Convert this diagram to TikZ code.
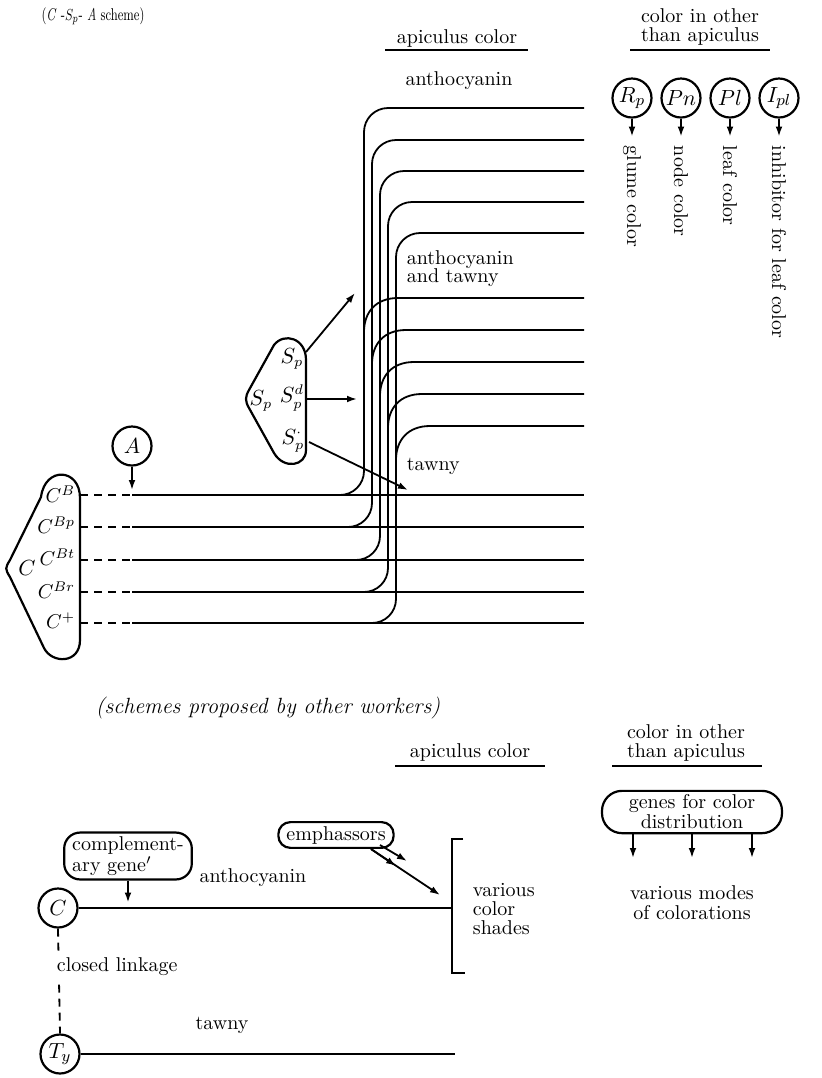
\documentclass[tikz,border=0pt]{standalone}
\usepackage{graphicx}
\usetikzlibrary{arrows.meta}
\begin{document}
\begin{tikzpicture}[x=0.5pt,y=-0.5pt,line width=0.9pt,
  txt/.style={inner sep=0pt,font=\fontsize{10}{12}\selectfont},
  gene/.style={draw,circle,minimum size=19.5pt,inner sep=0pt,line width=1.1pt,font=\fontsize{11}{12}\selectfont},
  arr/.style={-{Latex[length=5pt,width=3.4pt]}},
  pill/.style={draw,rounded corners=8pt,line width=1.1pt,inner xsep=4pt,inner ysep=2pt,font=\fontsize{10}{8.5}\selectfont},
  uline/.style={line width=1.3pt},
  shapeline/.style={line width=1.1pt},
  dline/.style={dash pattern=on 4pt off 3pt}]
\useasboundingbox (0,0) rectangle (821,1078);

% ---------------- headings (top)
\node[txt,font=\fontsize{8.5}{9}\selectfont] (title) at (93,16) {\scalebox{0.72}[1]{(\textit{C} -$S_p$- \textit{A} scheme)}};
\node[txt] (apc) at (457,38) {apiculus color};
\draw[uline] (385,50) -- (528,50);
\node[txt,align=center,font=\fontsize{10}{9.5}\selectfont] (other) at (700,27) {color in other\\than apiculus};
\draw[uline] (630,50) -- (770,50);
\node[txt] (antho) at (459,81) {anthocyanin};

% ---------------- genes for other colours
\node[gene] (Rp) at (632,98) {$R_p$};
\node[gene] (Pn) at (681,98) {$Pn$};
\node[gene] (Pl) at (730,98) {$Pl$};
\node[gene] (Ipl) at (779,98) {$I_{pl}$};
\foreach \g in {Rp,Pn,Pl,Ipl} \draw[arr] (\g.south) -- ++(0,18);
\node[txt,rotate=-90,anchor=west] (glume) at (632,145) {glume color};
\node[txt,rotate=-90,anchor=west] (nodec) at (681,145) {node color};
\node[txt,rotate=-90,anchor=west] (leafc) at (730,145) {leaf color};
\node[txt,rotate=-90,anchor=west] (inhib) at (779,145) {inhibitor for leaf color};

% ---------------- allele lines
\foreach \v/\y/\t/\m in {364/495/108/298, 372/527/140/330, 380/560/171/362, 388/592/202/394, 396/623/233/426} {
  \draw[rounded corners=12pt] ({\v-34},\y) -- (\v,\y) -- (\v,\t) -- (584,\t);
  \draw (\v,{\m+34}) .. controls (\v,{\m+14}) and ({\v+12},\m) .. ({\v+34},\m) -- (584,\m);
  \draw[dline] (80,\y) -- (132,\y);
  \draw (132,\y) -- (584,\y);
}
\node[txt,anchor=west,align=left,font=\fontsize{10}{9}\selectfont] (antaw) at (406,269) {anthocyanin\\and tawny};
\node[txt,anchor=west] (tawny1) at (406,466) {tawny};

% ---------------- Sp locus
\draw[shapeline] (306,450) -- (306,360) .. controls (306,338) and (284,332) .. (274,345)
  -- (249,390) .. controls (245,397) and (245,401) .. (249,408)
  -- (274,453) .. controls (284,470) and (306,466) .. (306,450) -- cycle;
\node[txt,font=\fontsize{10.5}{12}\selectfont] (sp1) at (292,359) {$S_p$};
\node[txt,font=\fontsize{10.5}{12}\selectfont] (sp0) at (261,401) {$S_p$};
\node[txt,font=\fontsize{10.5}{12}\selectfont] (spd) at (292,398) {$S^d_p$};
\node[txt,font=\fontsize{10.5}{12}\selectfont] (spm) at (293,441) {$S^{\cdot}_p$};
\coordinate (sa) at (306,352); \coordinate (ea) at (355,293);
\coordinate (sb) at (306,399); \coordinate (eb) at (357,399);
\coordinate (sc) at (309,442); \coordinate (ec) at (408,490);
\draw[arr] (sa) -- (ea);
\draw[arr] (sb) -- (eb);
\draw[arr] (sc) -- (ec);

% ---------------- A
\node[gene] (A) at (132,446) {$A$};
\coordinate (Ahit) at (132,490);
\draw[arr] (A.south) -- (Ahit);

% ---------------- C locus
\draw[shapeline] (80,640) -- (80,498) .. controls (80,468) and (45,466) .. (41,497)
  -- (10,560) .. controls (5,568) and (5,569) .. (10,577)
  -- (44,648) .. controls (52,664) and (80,664) .. (80,640) -- cycle;
\node[txt,font=\fontsize{11}{12}\selectfont] (Cbig) at (27,568) {$C$};
\node[txt,anchor=east] (cB) at (76,494) {$C^{B}$};
\node[txt,anchor=east] (cBp) at (76,525) {$C^{Bp}$};
\node[txt,anchor=east] (cBt) at (76,557) {$C^{Bt}$};
\node[txt,anchor=east] (cBr) at (76,590) {$C^{Br}$};
\node[txt,anchor=east] (cP) at (76,621) {$C^{+}$};

% ================= bottom part
\node[txt,font=\fontsize{11}{13}\selectfont\itshape] (schemes) at (268,708) {(schemes proposed by other workers)};
\node[txt] (apc2) at (470,752) {apiculus color};
\draw[uline] (395,766) -- (545,766);
\node[txt,align=center,font=\fontsize{10}{9.5}\selectfont] (other2) at (686,743) {color in other\\than apiculus};
\draw[uline] (612,766) -- (762,766);

\node[pill,align=center,minimum width=90pt,minimum height=20pt,rounded corners=10pt] (genes) at (692,812) {genes for color\\distribution};
\foreach \x in {633,692,752} \draw[arr] (genes.south -| \x,0) -- (\x,858);
\node[txt,align=center,font=\fontsize{10}{10}\selectfont] (modes) at (692,903) {various modes\\of colorations};

\node[gene] (Cb) at (58,908) {$C$};
\coordinate (br) at (452,908);
\draw (Cb.east) -- (br);
\draw (463,839) -- (452,839) -- (452,973) -- (465,973);
\node[txt,anchor=west,align=left,font=\fontsize{10}{9.5}\selectfont] (shades) at (472,909) {various\\color\\shades};

\node[pill,align=left,font=\fontsize{10}{9}\selectfont] (comp) at (128,856) {complement-\\ary gene$'$};
\draw[arr] (comp.south) -- ++(0,22);
\node[txt] (antho2) at (253,878) {anthocyanin};

\node[pill,inner ysep=2pt,rounded corners=6pt] (emph) at (336,835) {emphassors};
\coordinate (em1) at (371,849); \coordinate (em2) at (380,845);
\draw[arr] (em1) -- (440,895);
\draw[arr] (em1) -- (396,866);
\draw[arr] (em2) -- (407,861);

\node[gene] (Ty) at (60,1054) {$T_y$};
\draw[dline] (Cb.south) -- (Ty.north);
\node[txt,anchor=west,fill=white,inner ysep=2pt] (linkage) at (56,967) {closed linkage};
\node[txt] (tawny2) at (222,1025) {tawny};
\coordinate (tyend) at (455,1054);
\draw (Ty.east) -- (tyend);
\end{tikzpicture}
\end{document}
